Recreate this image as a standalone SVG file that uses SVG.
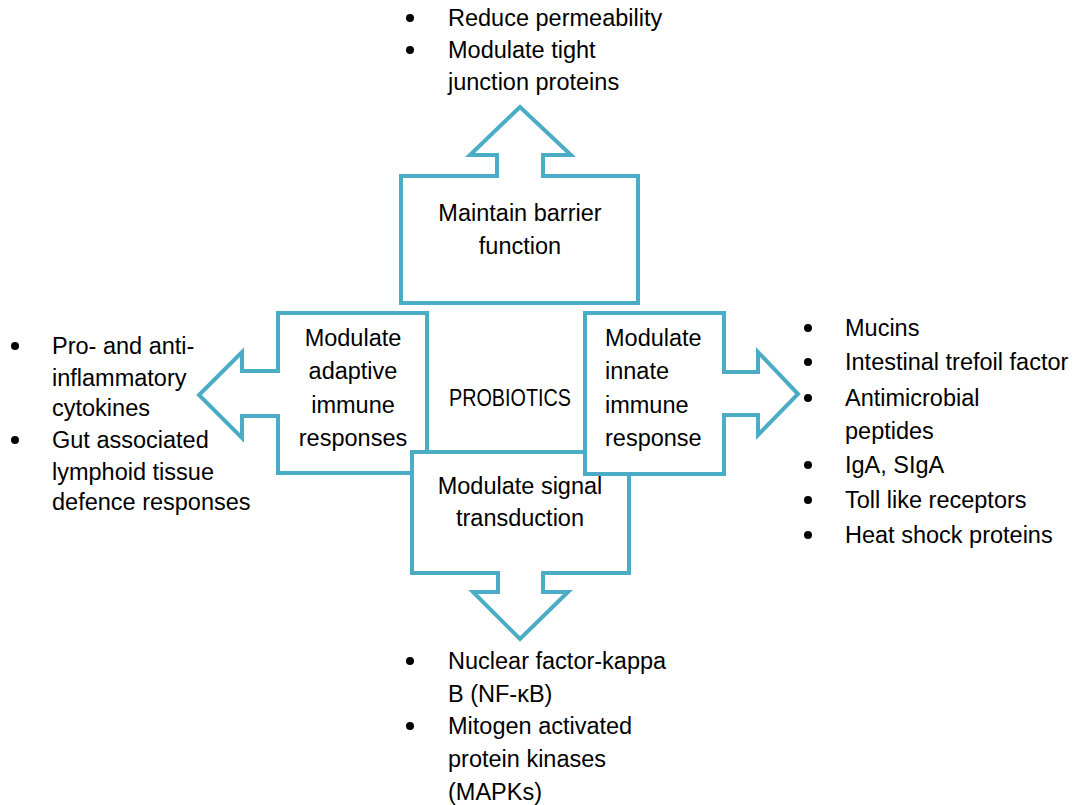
<svg xmlns="http://www.w3.org/2000/svg" width="1085" height="805" viewBox="0 0 1085 805">
<style>
.shape{fill:#fff;stroke:#4bacc6;stroke-width:4;stroke-linejoin:miter}
text{font-family:"Liberation Sans",Arial,sans-serif;font-size:23.5px;fill:#000}
.c{text-anchor:middle}
.b{fill:#000}
</style>
<rect width="1085" height="805" fill="#fff"/>
<g id="connectors"></g>
<g id="adaptive">
<path class="shape" d="M427,313 L427,473 L278,473 L278,416 L242,416 L242,438 L199,395 L242,352 L242,371 L278,371 L278,313 Z"/>
<text class="c" x="353" y="346">Modulate</text>
<text class="c" x="353" y="379">adaptive</text>
<text class="c" x="353" y="413">immune</text>
<text class="c" x="353" y="446">responses</text>
</g>
<g id="signal">
<path class="shape" d="M412,452 L629,452 L629,573 L543,573 L543,592 L568,592 L520,639 L473,592 L498,592 L498,573 L412,573 Z"/>
<text class="c" x="520" y="494">Modulate signal</text>
<text class="c" x="520" y="526">transduction</text>
</g>
<g id="innate">
<path class="shape" d="M585,313 L724,313 L724,372 L758,372 L758,352 L798,394 L758,435 L758,415 L724,415 L724,474 L585,474 Z"/>
<text x="605" y="346">Modulate</text>
<text x="605" y="379">innate</text>
<text x="605" y="413">immune</text>
<text x="605" y="446">response</text>
</g>
<g id="barrier">
<path class="shape" d="M401,176 L497,176 L497,155 L470,155 L520,107 L571,155 L543,155 L543,176 L638,176 L638,303 L401,303 Z"/>
<text class="c" x="520" y="221">Maintain barrier</text>
<text class="c" x="520" y="254">function</text>
</g>
<g id="probiotics">
<text x="449" y="406" textLength="122" lengthAdjust="spacingAndGlyphs">PROBIOTICS</text>
</g>
<g id="list-top">
<circle class="b" cx="410" cy="18" r="4"/>
<circle class="b" cx="410" cy="50" r="4"/>
<text x="448" y="26">Reduce permeability</text>
<text x="448" y="58">Modulate tight</text>
<text x="448" y="90">junction proteins</text>
</g>
<g id="list-left">
<circle class="b" cx="15" cy="346" r="4"/>
<circle class="b" cx="15" cy="440" r="4"/>
<text x="52" y="354">Pro- and anti-</text>
<text x="52" y="386">inflammatory</text>
<text x="52" y="416">cytokines</text>
<text x="52" y="448">Gut associated</text>
<text x="52" y="480">lymphoid tissue</text>
<text x="52" y="510">defence responses</text>
</g>
<g id="list-right">
<circle class="b" cx="808" cy="328" r="4"/>
<circle class="b" cx="808" cy="362" r="4"/>
<circle class="b" cx="808" cy="398" r="4"/>
<circle class="b" cx="808" cy="465" r="4"/>
<circle class="b" cx="808" cy="500" r="4"/>
<circle class="b" cx="808" cy="535" r="4"/>
<text x="845" y="336">Mucins</text>
<text x="845" y="370">Intestinal trefoil factor</text>
<text x="845" y="406">Antimicrobial</text>
<text x="845" y="439">peptides</text>
<text x="845" y="473">IgA, SIgA</text>
<text x="845" y="508">Toll like receptors</text>
<text x="845" y="543">Heat shock proteins</text>
</g>
<g id="list-bottom">
<circle class="b" cx="410" cy="661" r="4"/>
<circle class="b" cx="410" cy="726" r="4"/>
<text x="448" y="669">Nuclear factor-kappa</text>
<text x="448" y="702">B (NF-κB)</text>
<text x="448" y="734">Mitogen activated</text>
<text x="448" y="767">protein kinases</text>
<text x="448" y="800">(MAPKs)</text>
</g>
</svg>
